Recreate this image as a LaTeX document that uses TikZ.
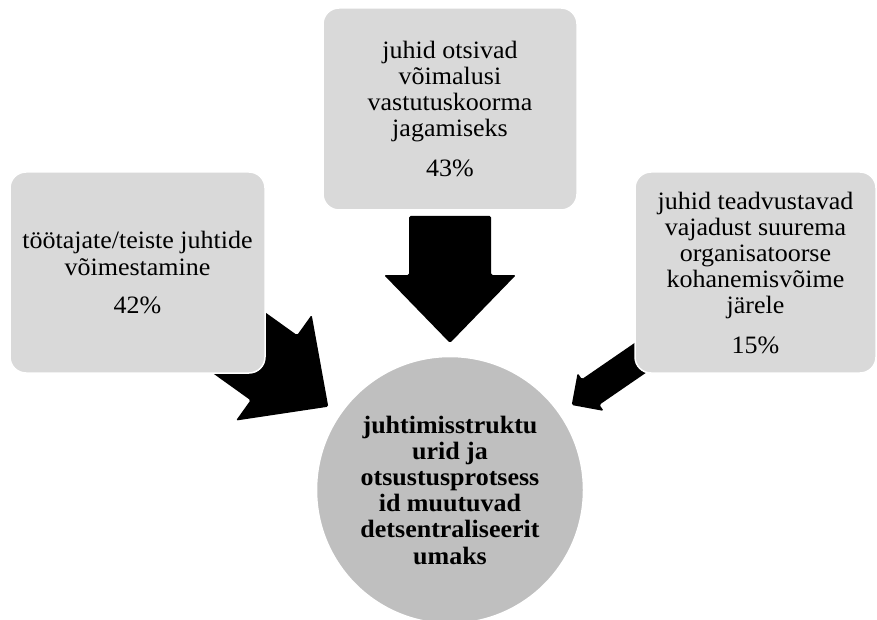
\documentclass[tikz,border=0pt]{standalone}
\usepackage{fontspec}
\setmainfont{Liberation Serif}[FakeStretch=1.04]
\definecolor{boxgray}{HTML}{D9D9D9}
\definecolor{circgray}{HTML}{BFBFBF}
\begin{document}
\begin{tikzpicture}[x=1pt,y=-1pt,
  box/.style={fill=boxgray, draw=white, line width=1.5pt, rounded corners=16pt,
    align=center, inner sep=0pt, font=\fontsize{25}{26.2}\selectfont},
  hub/.style={circle, fill=circgray, draw=white, line width=1.5pt, align=center,
    inner sep=0pt, minimum size=267pt, font=\fontsize{25}{26.2}\selectfont\bfseries},
  blockarrow/.style={fill=black, rounded corners=1.5pt}]
\useasboundingbox (0,0) rectangle (877,620);

% arrow tips
\coordinate (tipTop) at (450,343);
\coordinate (tipLeft) at (328.3,406.7);
\coordinate (tipRight) at (571.7,405);

% block arrows (drawn first, behind boxes)
\begin{scope}[shift={(tipTop)}, rotate=-90]
  \fill[blockarrow] (0,0) -- (-68,66) -- (-68,41) -- (-127,41) -- (-127,-41) -- (-68,-41) -- (-68,-66) -- cycle;
\end{scope}
\begin{scope}[shift={(tipLeft)}, rotate=-35.6]
  \fill[blockarrow] (0,0) -- (-67,65) -- (-67,40) -- (-127,40) -- (-127,-40) -- (-67,-40) -- (-67,-65) -- cycle;
\end{scope}
\begin{scope}[shift={(tipRight)}, rotate=214.5]
  \fill[blockarrow] (0,0) -- (-23,23) -- (-23,15.5) -- (-100,15.5) -- (-100,-15.5) -- (-23,-15.5) -- (-23,-23) -- cycle;
\end{scope}

% boxes
\node[box, minimum width=254pt, minimum height=202pt] (top) at (450,109)
  {juhid otsivad\\võimalusi\\vastutuskoorma\\jagamiseks\\[14pt]43\%};
\node[box, minimum width=255pt, minimum height=201pt] (left) at (137.5,272.5)
  {töötajate/teiste juhtide\\võimestamine\\[12pt]42\%};
\node[box, minimum width=241pt, minimum height=201pt] (right) at (755.5,272.5)
  {juhid teadvustavad\\vajadust suurema\\organisatoorse\\kohanemisvõime\\järele\\[13pt]15\%};

% hub
\node[hub] (hub) at (450,490)
  {juhtimisstruktu\\urid ja\\otsustusprotsess\\id muutuvad\\detsentraliseerit\\umaks};
\end{tikzpicture}
\end{document}
